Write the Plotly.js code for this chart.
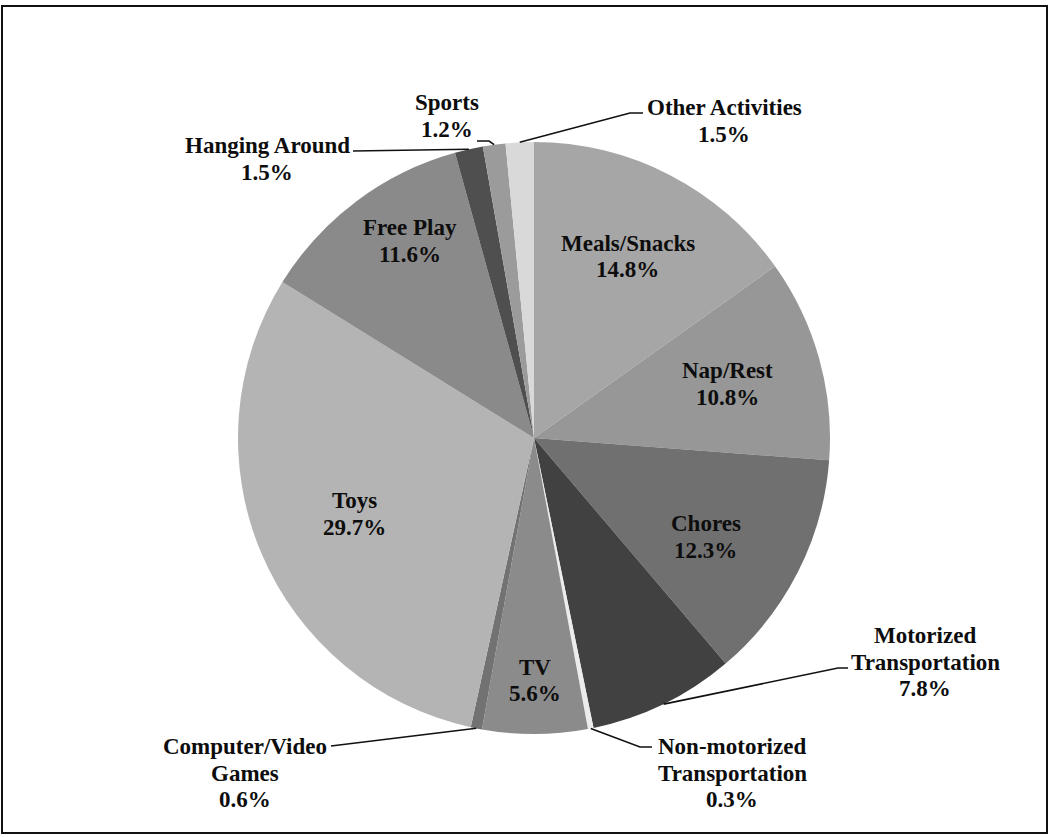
<!DOCTYPE html>
<html>
<head>
<meta charset="utf-8">
<script src="https://cdn.plot.ly/plotly-3.0.1.min.js"></script>
<style>html,body{margin:0;padding:0;background:#fff;}#chart{width:1050px;height:837px;}</style>
</head>
<body>
<div id="chart"></div>
<script>
// ---- data ----
const categories = ["Meals/Snacks", "Nap/Rest", "Chores", "Motorized Transportation",
  "Non-motorized Transportation", "TV", "Computer/Video Games", "Toys", "Free Play",
  "Hanging Around", "Sports", "Other Activities"];
const percentages = [14.8, 10.8, 12.3, 7.8, 0.3, 5.6, 0.6, 29.7, 11.6, 1.5, 1.2, 1.5];
const labelLines = [["Meals/Snacks"], ["Nap/Rest"], ["Chores"], ["Motorized", "Transportation"],
  ["Non-motorized", "Transportation"], ["TV"], ["Computer/Video", "Games"], ["Toys"], ["Free Play"],
  ["Hanging Around"], ["Sports"], ["Other Activities"]];

// ---- style ----
const colors = ["#a6a6a6", "#979797", "#707070", "#414141", "#ececec", "#8b8b8b",
  "#727272", "#b4b4b4", "#8a8a8a", "#4f4f4f", "#9b9b9b", "#d9d9d9"];

const W = 1050, H = 837;
const CX = 534, CY = 438, R = 296;
const LINE_H = 26.5;

// label layout: inside labels by radius fraction + angle nudge (deg)
const insideLayout = {
  "Meals/Snacks": {r: 0.69, da: 0},
  "Nap/Rest": {r: 0.68, da: 0},
  "Chores": {r: 0.67, da: 3},
  "TV": {r: 0.82, da: 0},
  "Toys": {r: 0.66, da: 0},
  "Free Play": {r: 0.787, da: 4.7}
};
// outside labels: text center (px) and leader path points after the slice tip (px)
const outsideLayout = {
  "Motorized Transportation": {tx: 925, ty: 662, pts: [[838, 668], [848, 668]]},
  "Non-motorized Transportation": {tx: 732, ty: 773, pts: [[640, 747], [652, 747]]},
  "Computer/Video Games": {tx: 245, ty: 773, pts: [[331, 746]]},
  "Hanging Around": {tx: 267, ty: 159, pts: [[353, 151]]},
  "Sports": {tx: 447, ty: 116, pts: [[489, 141], [477, 141]]},
  "Other Activities": {tx: 724, ty: 121, pts: [[630, 113], [643, 113]]}
};

const px = x => x / W;
const py = y => 1 - y / H;

const total = percentages.reduce((a, b) => a + b, 0);
let cum = 0;
const annotations = [];
const shapes = [];
const FAMILY = "'Liberation Serif', 'Times New Roman', 'DejaVu Serif', serif";
const font = {family: FAMILY, size: 23, color: "#0d0d0d", weight: "bold"};

function addLabel(lines, cx, cy) {
  const n = lines.length;
  lines.forEach((t, k) => {
    const y = cy + (k - (n - 1) / 2) * LINE_H;
    annotations.push({x: px(cx), y: py(y), xref: "paper", yref: "paper", text: t,
      showarrow: false, xanchor: "center", yanchor: "middle", align: "center", font: font});
  });
}

categories.forEach((c, i) => {
  const mid = (cum + percentages[i] / 2) / total * 360;
  cum += percentages[i];
  const lines = labelLines[i].concat([percentages[i].toFixed(1) + "%"]);
  if (insideLayout[c]) {
    const L = insideLayout[c];
    const a = (mid + L.da) * Math.PI / 180;
    addLabel(lines, CX + L.r * R * Math.sin(a), CY - L.r * R * Math.cos(a));
  } else {
    const L = outsideLayout[c];
    const a = mid * Math.PI / 180;
    const tipx = CX + R * Math.sin(a), tipy = CY - R * Math.cos(a);
    addLabel(lines, L.tx, L.ty);
    let path = "M " + px(tipx) + " " + py(tipy);
    L.pts.forEach(p => { path += " L " + px(p[0]) + " " + py(p[1]); });
    shapes.push({type: "path", xref: "paper", yref: "paper", path: path,
      line: {color: "#111", width: 1.6}});
  }
});

// outer frame
shapes.push({type: "rect", xref: "paper", yref: "paper", x0: px(2), x1: px(1047),
  y0: py(833), y1: py(6), line: {color: "#111", width: 2}});

const trace = {
  type: "pie",
  labels: categories,
  values: percentages,
  sort: false,
  direction: "clockwise",
  rotation: 0,
  marker: {colors: colors, line: {width: 0}},
  textinfo: "none",
  hoverinfo: "label+percent",
  automargin: false,
  domain: {x: [px(CX - R), px(CX + R)], y: [py(CY + R), py(CY - R)]}
};

const layout = {
  width: W, height: H,
  margin: {l: 0, r: 0, t: 0, b: 0},
  paper_bgcolor: "#fff",
  showlegend: false,
  font: {family: FAMILY},
  annotations: annotations,
  shapes: shapes
};

Plotly.newPlot("chart", [trace], layout, {displayModeBar: false, staticPlot: true});
</script>
</body>
</html>
